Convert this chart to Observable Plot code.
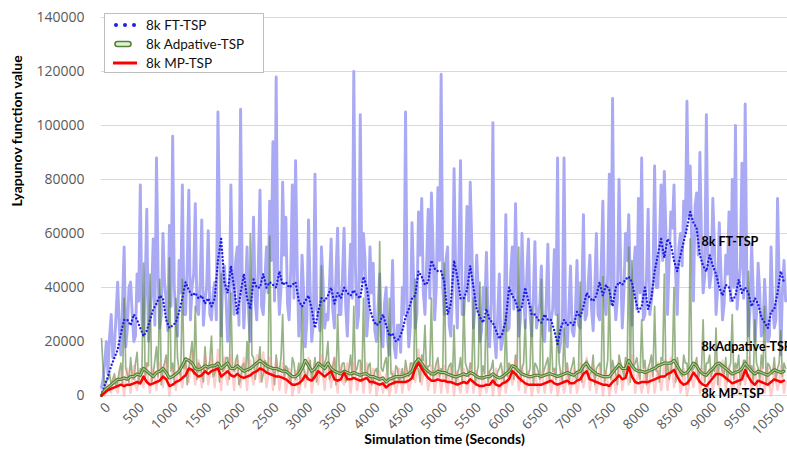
<!DOCTYPE html>
<html>
<head>
<meta charset="utf-8">
<script src="https://cdn.jsdelivr.net/npm/d3@7"></script>
<script src="https://cdn.jsdelivr.net/npm/@observablehq/plot@0.6"></script>
<style>
  html, body { margin: 0; padding: 0; background: #fff; }
  #wrap { position: relative; width: 787px; height: 458px; overflow: hidden; font-family: Lato, "Open Sans", sans-serif; }
  #legend { position: absolute; left: 104px; top: 13px; width: 160px; height: 60px; border: 1px solid #bfbfbf; background: #fff; box-sizing: border-box; }
  .lg { position: absolute; left: 0; height: 19px; display: flex; align-items: center; font-size: 13.5px; color: #111; }
  .lg svg { margin-left: 8px; margin-right: 9px; }
</style>
</head>
<body>
<div id="wrap"></div>
<script>
// Sampling step of the series (seconds); raw series also have a reading half a step later
const step = 48;

// Values below are in thousands (x1000 when the tables are built)
// 8k FT-TSP raw (light blue), readings at t = step*i
const ftRawK = [3,12,8,30,18,42,15,55,25,42,20,45,78,22,69,30,58,88,25,60,35,63,96,28,50,78,30,76,40,71,30,65,35,61,28,
42,105,22,48,20,78,30,55,106,25,55,20,66,28,76,30,55,72,94,118,30,79,66,28,78,87,22,52,18,65,20,82,30,55,25,
28,58,25,62,30,62,22,56,120,25,104,60,22,55,49,20,45,18,40,15,50,14,26,40,105,18,64,25,68,73,30,69,75,28,77,
119,30,55,22,84,25,87,30,70,79,25,52,20,40,53,18,101,14,45,20,67,25,55,71,22,60,25,58,22,57,30,48,20,56,28,
54,88,20,88,18,48,22,50,25,67,30,52,24,60,28,72,30,82,110,28,80,25,60,67,26,55,73,88,30,69,35,85,40,78,83,
30,68,78,30,60,72,109,85,35,75,90,38,104,40,73,30,64,28,52,68,80,100,40,86,108,22,56,20,49,22,43,20,55,25,73,15,50];
// 8k FT-TSP raw, readings half a step later
const ftRawHalfK = [6,20,22,14,30,25,34,18,40,30,22,35,28,40,20,38,26,45,30,42,24,33,40,22,38,30,48,28,45,32,42,26,40,30,38,
28,60,45,36,30,42,50,26,44,38,30,40,35,48,33,42,38,50,35,45,40,52,34,46,36,48,30,38,28,40,27,32,24,42,30,
42,32,45,30,44,33,40,36,48,30,42,50,30,38,24,32,22,34,20,28,18,26,16,30,34,26,42,30,52,38,48,36,55,40,50,
40,50,26,38,45,52,30,42,35,55,33,38,24,32,28,35,22,30,17,27,24,45,32,40,28,38,45,30,36,25,34,22,35,24,32,
30,16,28,22,32,24,30,26,36,28,42,32,40,30,48,35,45,34,40,36,48,38,50,40,46,32,38,28,45,30,42,40,56,50,60,
50,62,45,55,48,60,66,55,70,52,58,44,52,45,55,40,46,34,45,35,40,32,48,36,44,32,38,30,38,24,30,22,34,28,42,38,35];
// 8k FT-TSP moving average (blue dotted)
const ftAvgK = [0,4,7,11,14,17,23,28,28,26,30,28,25,22,24,28,32,34,37,36,28,25,26,27,31,36,42,39,37,38,36,37,34,36,33,
36,50,58,42,38,48,40,30,38,45,36,32,43,40,40,45,40,42,41,40,46,41,42,40,41,42,35,33,35,37,32,25,31,36,35,
37,40,34,38,36,40,38,37,39,37,36,44,40,32,28,26,27,30,26,22,23,20,21,24,29,32,36,37,46,44,41,42,50,47,46,
46,42,30,34,50,44,36,36,39,48,40,32,29,27,32,28,27,24,21,23,28,40,37,35,31,33,40,35,30,30,28,27,30,28,28,
24,19,25,28,26,27,26,31,29,33,38,36,35,37,42,37,41,39,33,40,42,41,43,44,42,36,31,33,40,32,36,46,52,58,51,
58,56,50,46,52,57,62,68,64,62,52,48,46,52,48,45,40,37,41,40,35,37,43,38,40,38,33,36,34,29,27,25,31,32,38,46,42];
// 8k Adpative-TSP raw (green)
const adRawK = [21,3,6,4,8,5,12,36,8,14,6,16,10,49,12,45,8,18,43,10,15,51,12,36,9,43,14,10,20,33,12,8,18,10,22,
8,12,45,10,14,38,9,15,6,12,20,60,14,10,18,8,12,59,10,15,9,30,11,7,14,6,12,33,8,11,6,14,10,48,12,
20,8,14,30,9,12,7,15,33,10,13,36,8,12,6,10,57,9,14,36,8,11,5,10,13,7,12,43,10,15,26,11,36,9,14,
10,49,9,12,26,8,14,36,10,12,36,8,42,11,40,9,13,6,10,8,30,12,9,15,55,10,28,8,33,12,9,43,10,14,26,
10,30,8,25,12,9,14,6,42,10,13,8,15,10,12,44,9,40,13,8,15,10,14,55,50,12,9,28,13,10,15,33,9,14,45,
12,9,40,14,8,15,12,58,10,14,9,28,12,15,10,25,12,9,14,10,30,12,15,9,13,46,11,28,10,15,33,12,9,14,10,24,12];
// 8k Adpative-TSP raw, half a step later
const adRawHalfK = [10,5,8,6,3,9,4,10,5,7,12,4,9,6,11,5,13,7,4,12,6,9,5,14,7,10,4,15,8,6,11,5,9,13,7,
12,5,9,14,6,10,13,4,11,7,9,15,6,12,5,13,8,11,4,9,14,6,10,5,12,8,4,10,6,13,9,5,12,7,14,
6,11,4,9,12,5,10,6,9,13,5,8,11,4,9,6,10,12,5,8,4,10,7,5,9,12,6,10,5,13,8,11,6,12,7,
9,5,11,6,4,10,5,12,7,9,4,11,6,8,5,10,4,9,12,5,7,11,6,9,5,12,7,10,4,11,6,8,12,5,9,
6,12,5,9,4,11,7,10,5,12,6,9,4,11,8,5,13,6,10,4,12,7,9,5,11,14,6,10,4,12,7,9,5,13,8,
6,13,5,10,7,12,4,9,11,6,10,5,12,7,9,4,11,8,5,12,6,10,4,13,7,9,5,12,6,10,4,11,8,5,12,7,10];
// 8k Adpative-TSP moving average (green outlined)
const adAvgK = [0,2,3,4,5,6,6,6.5,6,7,7,8,7.5,10,9,8,7,8.5,9,10,8.5,6.5,7,8,9,11,13.5,13,12,10,9.5,10,11,10.5,11,
11,12,10,11,12,10,10,11,10,9,9.5,10,11,12,13,12,11,10.5,10,10,9.5,9,9,8,7,7,8,10,13,11,9,10,12,11,10,
12,10,9,8.5,8,9,8.5,8,8.5,8,7.5,8,8,7,7,6.5,6,6.5,5,6,6.5,7,7,7,7.5,8,9,12,13.5,12,10,9,8,8,9,
8.5,8.5,8,7.5,7,7,7.5,8,7.5,8.5,8,7,6.5,6.5,7,7,8,7,6.5,7,8,9,11,10.5,9,8,7.5,7,7,7.5,7.5,7,7.5,8,8,
7.5,7,7.5,8,8.5,8,7.5,8.5,9,11,12,10,9,8,7.5,7,7,7,8.5,10,11.5,10,10,13,11,9.5,9,9,8.5,9,9.5,10,11,11.5,12,
12,12,13,11,9,8,8.5,10,12,11,9,8,7.5,9,10,11.5,12,11,10,9,8,8.5,9,10,12,10.5,9,8,9,8.5,8,7.5,8.5,9.5,9,8.5,9];
// 8k MP-TSP raw (pink)
const mpRawK = [2,0,4,1,7,1,9,0,10,1,11,2,9,3,12,1,10,2,12,3,13,0,10,2,11,3,13,5,16,4,13,3,15,4,14,
3,17,2,14,4,15,2,13,3,14,2,13,4,15,5,16,3,14,2,13,2,12,1,10,0,9,1,11,3,14,1,12,4,15,2,
13,3,14,1,11,4,12,1,12,2,11,1,12,1,10,0,9,1,8,0,9,1,10,1,11,2,12,5,17,4,13,2,11,1,12,
1,11,1,10,0,9,1,10,1,12,1,9,0,8,1,9,0,10,0,9,1,11,4,14,2,11,1,9,0,9,1,9,1,10,1,
10,0,9,1,11,1,10,1,12,3,14,2,11,1,10,0,9,0,10,1,13,2,12,4,15,1,10,1,11,1,11,1,12,2,13,
2,14,3,13,1,10,0,11,3,13,1,10,0,10,2,13,3,13,2,11,0,10,1,11,4,14,1,10,0,11,1,10,0,11,2,11,1];
// 8k MP-TSP raw, half a step later
const mpRawHalfK = [1,3,2,5,3,6,4,6,5,7,4,8,6,9,5,7,6,8,7,9,5,6,7,8,6,9,8,11,9,10,8,9,10,8,9,
10,8,11,7,9,8,10,6,9,8,10,7,9,11,8,10,7,9,8,10,6,8,5,7,3,6,4,8,6,9,5,8,10,7,9,
7,10,6,8,5,9,7,6,8,5,7,6,8,4,7,3,6,4,5,3,6,4,7,5,6,4,8,9,11,8,7,6,8,5,7,
6,4,7,5,6,3,5,6,4,7,5,6,3,5,4,6,5,4,3,6,5,8,7,9,6,7,4,6,3,5,4,6,5,7,5,
6,3,5,4,7,5,6,4,7,6,9,7,6,5,6,4,5,3,6,5,8,6,7,9,8,6,5,4,6,5,7,5,7,6,8,
7,9,6,8,4,5,3,6,7,9,6,5,3,6,5,8,7,9,6,7,4,6,5,7,8,9,6,5,3,6,5,4,3,6,5,7,5];
// 8k MP-TSP moving average (red)
const mpAvgK = [0,1,2,2.5,3,3.5,4,3.5,4,4,4.5,5,4.5,7,5,4,4.5,5,5.5,7,6,3.5,4,5,5.5,6.5,7.5,10,9.5,8,7,7.5,9,8,9,
9.5,10,7,8,9,7.5,7,8,7,6.5,7,7.5,8.5,9,10,9.5,8.5,8,7.5,7,7,6.5,6,5,4,4,4.5,5.5,7.5,6,5.5,7,9,8,7,
8,9,6,5.5,6,8.5,6,6,6.5,6,5.5,6,6.5,5,5,4.5,4,4.5,3,4,4.5,5,5,5,5,5.5,6.5,10,12,10,8,6.5,5.5,5.5,6,
5.5,5.5,5,5,4.5,4,4.5,5,4.5,6,5,4,3.5,3.5,4,4,5.5,4,3.5,4.5,5,6,9,8,6.5,5.5,4.5,4,4,4,4,4,4.5,5,5.5,
4.5,4,4.5,5,5.5,4.5,4.5,5.5,6,8,9,6,5.5,5,4.5,4,4,3.5,5,6,7.5,6,6.5,10.5,7,5,4.5,5,5,5,5.5,6,6.5,7,7,
8,8.5,9.5,7,5,4,4.5,6,8.5,7,5,4,3.5,5,6.5,8,8,7.5,6.5,5.5,4.5,5,5.5,6,9.5,7,5,4,5.5,5,4.5,4,5,6,5.5,5,5.5];

// Axis ticks
const yTicks = [0,20000,40000,60000,80000,100000,120000,140000];
// x tick labels as printed on the category axis (one label every 500-s slot; "10000" is absent in the original)
const xTickLabels = ["0","500","1000","1500","2000","2500","3000","3500","4000","4500","5000","5500","6000","6500","7000","7500","8000","8500","9000","9500","10500"];
const xSlot = 500;

// Texts
const yTitle = "Lyapunov function value";
const xTitle = "Simulation time (Seconds)";
const seriesNames = ["8k FT-TSP", "8k Adpative-TSP", "8k MP-TSP"];
const annotations = [
  {t: 8905, v: 56700, label: "8k FT-TSP"},
  {t: 8905, v: 17800, label: "8kAdpative-TSP"},
  {t: 8905, v: 500, label: "8k MP-TSP"}
];

// Moving averages table
const avgRows = ftAvgK.map((_, i) => ({
  t: i * step,
  ftAvg: ftAvgK[i] * 1000,
  adAvg: adAvgK[i] * 1000,
  mpAvg: mpAvgK[i] * 1000
}));
// Raw table (both readings per step, in time order)
const rawRows = [];
ftRawK.forEach((_, i) => {
  rawRows.push({t: i * step, ft: ftRawK[i] * 1000, ad: adRawK[i] * 1000, mp: mpRawK[i] * 1000});
  rawRows.push({t: i * step + step / 2, ft: ftRawHalfK[i] * 1000, ad: adRawHalfK[i] * 1000, mp: mpRawHalfK[i] * 1000});
});

const titleFont = "Lato, sans-serif";
const tickFont = "'Open Sans', sans-serif";

const chart = Plot.plot({
  width: 787,
  height: 458,
  marginLeft: 101,
  marginRight: 0,
  marginTop: 17,
  marginBottom: 63,
  x: {domain: [0, 10180], axis: null},
  y: {domain: [0, 140000], axis: null},
  marks: [
    Plot.gridY(yTicks, {stroke: "#d9d9d9", strokeOpacity: 1, strokeWidth: 1}),
    Plot.line(rawRows, {x: "t", y: "ft", stroke: "#a9a9f4", strokeWidth: 2.9}),
    Plot.line(rawRows, {x: "t", y: "ad", stroke: "#548235", strokeOpacity: 0.6, strokeWidth: 1.7}),
    Plot.line(rawRows, {x: "t", y: "mp", stroke: "#ff8c8c", strokeOpacity: 0.45, strokeWidth: 2.2}),
    Plot.line(avgRows, {x: "t", y: "ftAvg", stroke: "#1f1fe6", strokeWidth: 2.4, strokeDasharray: "0 3.6", strokeLinecap: "round"}),
    Plot.line(avgRows, {x: "t", y: "adAvg", stroke: "#4f7a32", strokeWidth: 3.2}),
    Plot.line(avgRows, {x: "t", y: "adAvg", stroke: "#a9d18e", strokeWidth: 1.1}),
    Plot.line(avgRows, {x: "t", y: "mpAvg", stroke: "#ff0000", strokeWidth: 2.5}),
    // tick labels as text marks positioned by the scales
    Plot.text(yTicks, {y: d => d, text: d => String(d), frameAnchor: "left", textAnchor: "end", dx: -17, fontFamily: tickFont, fontSize: 14, fill: "#595959"}),
    Plot.text(xTickLabels, {x: (d, i) => i * xSlot, text: d => d, frameAnchor: "bottom", textAnchor: "end", lineAnchor: "top", rotate: -45, dx: 3, dy: 6, fontFamily: tickFont, fontSize: 13.5, fill: "#595959"}),
    Plot.text([yTitle], {text: d => d, frameAnchor: "left", rotate: -90, dx: -84, fontFamily: titleFont, fontWeight: "bold", fontSize: 14, fill: "black"}),
    Plot.text([xTitle], {text: d => d, frameAnchor: "bottom", dy: 48, fontFamily: titleFont, fontWeight: "bold", fontSize: 14, fill: "black"}),
    Plot.text(annotations, {x: "t", y: "v", text: "label", textAnchor: "start", fontFamily: titleFont, fontWeight: "bold", fontSize: 12.5, fill: "black"})
  ]
});

const wrap = document.getElementById("wrap");
wrap.appendChild(chart);

// Legend (HTML, overlaid in the top-left of the plot area)
const legend = document.createElement("div");
legend.id = "legend";
const swatches = [
  '<svg width="24" height="8"><circle cx="3" cy="4" r="2" fill="#1f1fe6"/><circle cx="12" cy="4" r="2" fill="#1f1fe6"/><circle cx="21" cy="4" r="2" fill="#1f1fe6"/></svg>',
  '<svg width="24" height="8"><rect x="2" y="1.5" width="16" height="5" rx="2.5" fill="#e2efd9" stroke="#548235" stroke-width="1.6"/></svg>',
  '<svg width="24" height="8"><line x1="0" y1="4" x2="24" y2="4" stroke="#ff0000" stroke-width="3"/></svg>'
];
seriesNames.forEach((name, i) => {
  const row = document.createElement("div");
  row.className = "lg";
  row.style.top = (1.5 + i * 19) + "px";
  row.innerHTML = swatches[i] + "<span>" + name + "</span>";
  legend.appendChild(row);
});
wrap.appendChild(legend);
</script>
</body>
</html>
